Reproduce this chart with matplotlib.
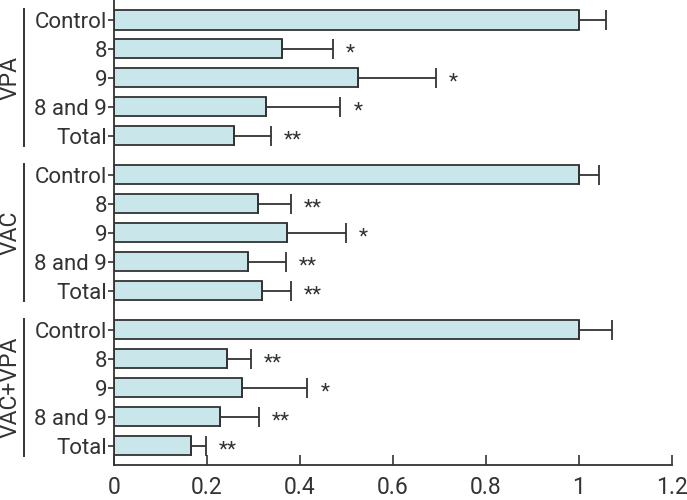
import numpy as np
import matplotlib
matplotlib.use('Agg')
import matplotlib.pyplot as plt
import matplotlib.transforms as mtransforms

plt.rcParams['font.family'] = ['Roboto', 'DejaVu Sans']

# data, top to bottom
groups = ['VPA', 'VAC', 'VAC+VPA']
labels = ['Control', '8', '9', '8 and 9', 'Total']
vpa = [1.0, 0.362, 0.524, 0.327, 0.259]
vpa_err = [0.058, 0.108, 0.168, 0.160, 0.078]
vpa_sig = ['', '*', '*', '*', '**']
vac = [1.0, 0.310, 0.373, 0.289, 0.319]
vac_err = [0.044, 0.070, 0.125, 0.080, 0.062]
vac_sig = ['', '**', '*', '**', '**']
both = [1.0, 0.242, 0.275, 0.229, 0.166]
both_err = [0.072, 0.053, 0.141, 0.082, 0.032]
both_sig = ['', '**', '*', '**', '**']
xticks = [0, 0.2, 0.4, 0.6, 0.8, 1, 1.2]
xticklabels = ['0', '0.2', '0.4', '0.6', '0.8', '1', '1.2']

values = [vpa, vac, both]
errors = [vpa_err, vac_err, both_err]
sigs = [vpa_sig, vac_sig, both_sig]

fill = '#c9e6ea'
dark = '#333333'
text_col = '#333333'
gap = 5.35

fig = plt.figure(figsize=(6.87, 5.0), dpi=100)
ax = fig.add_axes([0.166, 0.07, 0.812, 0.93])

ypos_all = []
lab_all = []
for g in range(3):
    ypos = np.arange(5) + g * gap
    ax.barh(ypos, values[g], height=0.66, color=fill, edgecolor=dark,
            linewidth=1.3, zorder=2)
    ax.errorbar(values[g], ypos, xerr=[np.zeros(5), errors[g]], fmt='none',
                ecolor=dark, elinewidth=1.3, capsize=7.5, capthick=1.3, zorder=3)
    for i in range(5):
        if sigs[g][i]:
            ax.text(values[g][i] + errors[g][i] + 0.028, ypos[i] + 0.14, sigs[g][i],
                    ha='left', va='center', fontsize=15, color=dark)
    ypos_all += list(ypos)
    lab_all += labels

    # group bracket and label at the left
    trans = mtransforms.blended_transform_factory(ax.transAxes, ax.transData)
    ax.plot([-0.161, -0.161], [ypos[0] - 0.38, ypos[-1] + 0.36], color=dark,
            lw=1.4, transform=trans, clip_on=False)
    ax.text(-0.186, ypos[2], groups[g], rotation=90, ha='center', va='center',
            fontsize=16.5, color=text_col, transform=trans)

ax.set_yticks(ypos_all)
ax.set_yticklabels(lab_all)
ax.set_ylim(2 * gap + 4 + 0.67, -0.69)
ax.set_xlim(0, 1.2)
ax.set_xticks(xticks)
ax.set_xticklabels(xticklabels)

ax.spines['top'].set_visible(False)
ax.spines['right'].set_visible(False)
ax.spines['left'].set_color(dark)
ax.spines['bottom'].set_color(dark)
ax.spines['left'].set_linewidth(1.3)
ax.spines['bottom'].set_linewidth(1.3)
ax.tick_params(axis='y', direction='out', length=4, width=1.2, pad=1,
               labelsize=16, colors=dark, labelcolor=text_col)
ax.tick_params(axis='x', direction='in', length=7, width=1.2, pad=8,
               labelsize=16.5, colors=dark, labelcolor=text_col)

fig.savefig('out.png', dpi=100)
